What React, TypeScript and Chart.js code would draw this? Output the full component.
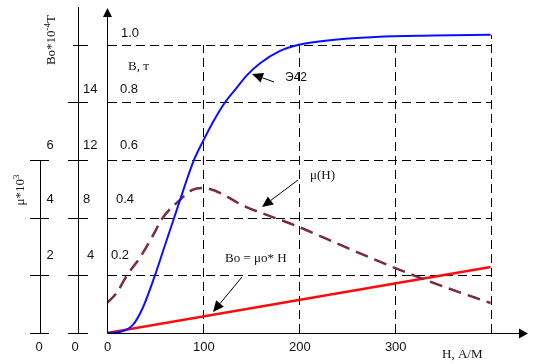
import React, { useEffect, useRef } from "react";
import { Chart, registerables } from "chart.js";

Chart.register(...registerables);

// ---- Data ----
// Magnetisation curve B(H) of steel Э42
const H_B = [0, 15, 27, 37, 50, 60, 70, 80, 90, 100, 111, 123, 135, 146, 160, 180, 200, 230, 280, 340, 400];
const B_VALUES = [0, 0.005, 0.028, 0.085, 0.2, 0.3, 0.4, 0.5, 0.595, 0.665, 0.735, 0.8, 0.85, 0.895, 0.937, 0.978, 1.0, 1.015, 1.027, 1.032, 1.035];

// Permeability μ(H) * 10^3
const H_MU = [0, 10, 21, 34, 47, 58, 76, 89, 100, 146, 200, 250, 300, 350, 400];
const MU_VALUES = [1.04, 1.39, 2.01, 2.6, 3.33, 3.99, 4.62, 4.97, 5.03, 4.36, 3.68, 2.96, 2.26, 1.62, 1.04];

// Bo = μo * H  (Bo * 10^-4 T)
const H_BO = [0, 400];
const BO_VALUES = [0, 4.58];

// Axis ticks / labels
const H_TICKS = [100, 200, 300];
const H_GRID = [100, 200, 300, 400];
const B_TICKS = [0.2, 0.4, 0.6, 0.8, 1.0];
const B_TICK_LABELS = ["0.2", "0.4", "0.6", "0.8", "1.0"];
const BO_TICK_LABELS = ["4", "8", "12", "14"]; // drawn at B rows 0.2..0.8
const MU_TICKS = [2, 4, 6];
const MU_TICK_LABELS = ["2", "4", "6"];

const SANS = "'Liberation Sans', Arial, sans-serif";
const SERIF = "'Liberation Serif', 'Times New Roman', serif";

function arrow(ctx: CanvasRenderingContext2D, x1: number, y1: number, x2: number, y2: number, len = 11, hw = 4.5) {
  const a = Math.atan2(y2 - y1, x2 - x1);
  const bx = x2 - len * Math.cos(a);
  const by = y2 - len * Math.sin(a);
  ctx.beginPath();
  ctx.moveTo(x1, y1);
  ctx.lineTo(bx, by);
  ctx.stroke();
  ctx.beginPath();
  ctx.moveTo(x2, y2);
  ctx.lineTo(bx + hw * Math.sin(a), by - hw * Math.cos(a));
  ctx.lineTo(bx - hw * Math.sin(a), by + hw * Math.cos(a));
  ctx.closePath();
  ctx.fill();
}

function line(ctx: CanvasRenderingContext2D, x1: number, y1: number, x2: number, y2: number) {
  ctx.beginPath();
  ctx.moveTo(x1, y1);
  ctx.lineTo(x2, y2);
  ctx.stroke();
}

const decoPlugin = {
  id: "deco",
  beforeDatasetsDraw(chart: any) {
    const { ctx } = chart;
    const x = chart.scales.x;
    const y = chart.scales.y;
    ctx.save();
    ctx.strokeStyle = "#000";
    ctx.lineWidth = 1;
    ctx.setLineDash([9, 5]);
    const x0 = Math.round(x.getPixelForValue(0));
    const x4 = Math.round(x.getPixelForValue(400)) + 0.5;
    for (const v of B_TICKS) {
      const py = Math.round(y.getPixelForValue(v)) + 0.5;
      line(ctx, x0 + 1, py, x4, py);
    }
    const bEnd = B_VALUES[B_VALUES.length - 1];
    for (const h of H_GRID) {
      const px = Math.round(x.getPixelForValue(h)) + 0.5;
      const top = h === 400 ? y.getPixelForValue(bEnd) : y.getPixelForValue(1.0);
      line(ctx, px, y.getPixelForValue(0), px, Math.round(top));
    }
    ctx.restore();
  },
  afterDatasetsDraw(chart: any) {
    const { ctx, chartArea } = chart;
    const x = chart.scales.x;
    const y = chart.scales.y;
    const yMu = chart.scales.yMu;
    ctx.save();
    ctx.strokeStyle = "#000";
    ctx.fillStyle = "#000";
    ctx.lineWidth = 1;
    ctx.setLineDash([]);

    const ax = Math.round(x.getPixelForValue(0)) + 0.5;
    const ay = Math.round(y.getPixelForValue(0)) + 0.5;

    // main axes with arrows
    line(ctx, ax, ay, ax, chartArea.top);
    arrow(ctx, ax, chartArea.top, ax, chartArea.top - 8, 9, 4.5);
    line(ctx, ax, ay, chartArea.right - 10, ay);
    arrow(ctx, chartArea.right - 10, ay, chartArea.right - 1, ay, 9, 5);

    // middle axis (Bo * 10^-4 T)
    const mx = 78.5;
    line(ctx, mx, 7, mx, ay);
    for (const v of [0, ...B_TICKS]) {
      const py = Math.round(y.getPixelForValue(v)) + 0.5;
      line(ctx, v === 1.0 ? 73 : 68, py, 88, py);
    }

    // μ axis
    const ux = 40.5;
    line(ctx, ux, Math.round(yMu.getPixelForValue(6)) + 0.5, ux, ay);
    for (const v of [0, ...MU_TICKS]) {
      const py = Math.round(yMu.getPixelForValue(v)) + 0.5;
      line(ctx, 30, py, 49, py);
    }

    // tick labels
    ctx.fillStyle = "#111";
    ctx.textBaseline = "middle";
    ctx.font = `13px ${SANS}`;
    const rowOff = [20, 18, 15, 13, 11];
    const bLeft = [111, 116, 120, 120, 121];
    ctx.textAlign = "left";
    B_TICKS.forEach((v, i) => {
      ctx.fillText(B_TICK_LABELS[i], bLeft[i], y.getPixelForValue(v) - rowOff[i]);
    });
    const boLeft = [87, 83, 83, 83];
    BO_TICK_LABELS.forEach((t, i) => {
      ctx.fillText(t, boLeft[i], y.getPixelForValue(B_TICKS[i]) - rowOff[i]);
    });
    ctx.textAlign = "center";
    MU_TICKS.forEach((v, i) => {
      ctx.fillText(MU_TICK_LABELS[i], 50, yMu.getPixelForValue(v) - rowOff[i]);
    });
    const by = ay + 14;
    ctx.fillText("0", 39, by);
    ctx.fillText("0", 75, by);
    ctx.fillText("0", ax, by);
    for (const h of H_TICKS) {
      ctx.fillText(String(h), x.getPixelForValue(h) + 1, by);
    }

    // axis titles
    ctx.font = `13px ${SERIF}`;
    ctx.textAlign = "left";
    ctx.fillText("H, А/М", 442, 355);
    ctx.fillText("B, т", 128, 67);

    // rotated titles with superscripts
    const rot = (cx: number, cy: number, parts: { t: string; sup?: boolean }[], size: number) => {
      ctx.save();
      ctx.translate(cx, cy);
      ctx.rotate(-Math.PI / 2);
      let total = 0;
      const widths = parts.map((p) => {
        ctx.font = `${p.sup ? Math.round(size * 0.7) : size}px ${SERIF}`;
        const w = ctx.measureText(p.t).width;
        total += w;
        return w;
      });
      let cxp = -total / 2;
      ctx.textAlign = "left";
      parts.forEach((p, i) => {
        ctx.font = `${p.sup ? Math.round(size * 0.7) : size}px ${SERIF}`;
        ctx.fillText(p.t, cxp, p.sup ? -4 : 0);
        cxp += widths[i];
      });
      ctx.restore();
    };
    rot(52, 40, [{ t: "Bo*10" }, { t: "-4", sup: true }, { t: "T" }], 13);
    rot(21, 190, [{ t: "μ*10" }, { t: "3", sup: true }], 13);

    // annotations
    ctx.font = `12px ${SANS}`;
    ctx.textAlign = "left";
    ctx.fillText("Э42", 285, 78);
    ctx.font = `13px ${SERIF}`;
    ctx.fillText("μ(H)", 310, 176);
    ctx.fillText("Bo = μo* H", 225, 259);

    ctx.fillStyle = "#000";
    arrow(ctx, 274, 82, 252, 74, 11, 5);
    arrow(ctx, 298, 180, 262, 207, 11, 5);
    arrow(ctx, 242, 277, 213, 312, 11, 5);

    ctx.restore();
  },
};

export default function App() {
  const ref = useRef<HTMLCanvasElement | null>(null);
  useEffect(() => {
    if (!ref.current) return;
    const chart = new Chart(ref.current, {
      type: "line",
      data: {
        datasets: [
          {
            label: "B(H) Э42",
            data: H_B.map((h, i) => ({ x: h, y: B_VALUES[i] })),
            borderColor: "#0a10ff",
            borderWidth: 2,
            pointRadius: 0,
            cubicInterpolationMode: "monotone",
            yAxisID: "y",
          },
          {
            label: "μ(H)",
            data: H_MU.map((h, i) => ({ x: h, y: MU_VALUES[i] })),
            borderColor: "#7a2a48",
            borderWidth: 2.5,
            borderDash: [13, 7],
            pointRadius: 0,
            cubicInterpolationMode: "monotone",
            yAxisID: "yMu",
          },
          {
            label: "Bo",
            data: H_BO.map((h, i) => ({ x: h, y: BO_VALUES[i] })),
            borderColor: "#ff0a0a",
            borderWidth: 2.5,
            pointRadius: 0,
            yAxisID: "yBo",
          },
        ],
      },
      options: {
        animation: false,
        responsive: false,
        layout: { padding: { left: 107, right: 8, top: 16, bottom: 31 } },
        plugins: { legend: { display: false }, tooltip: { enabled: false } },
        scales: {
          x: { type: "linear", min: 0, max: 440, display: false },
          y: { type: "linear", min: 0, max: 1.1, display: false },
          yMu: { type: "linear", min: 0, max: 11, display: false },
          yBo: { type: "linear", min: 0, max: 22, display: false },
        },
      },
      plugins: [decoPlugin],
    });
    return () => chart.destroy();
  }, []);
  return (
    <div style={{ position: "fixed", left: 0, top: 0, width: 537, height: 364, background: "#fff" }}>
      <canvas ref={ref} width={537} height={364} style={{ display: "block" }} />
    </div>
  );
}
